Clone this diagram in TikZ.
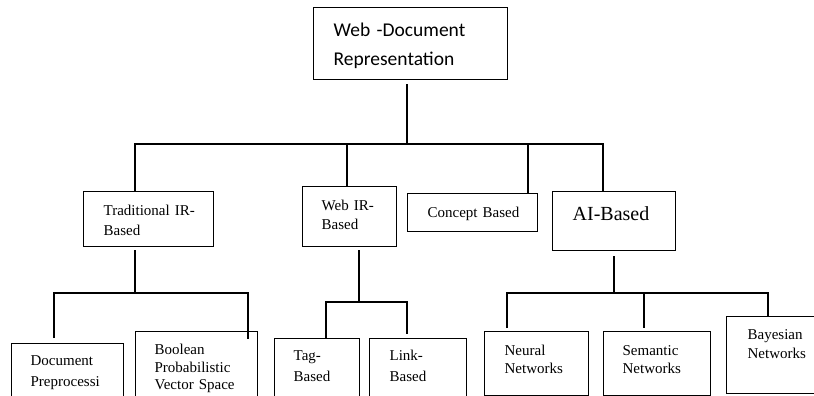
\documentclass[tikz,border=0pt]{standalone}
\usepackage{fontspec}
\setmainfont{Liberation Serif}
\newfontfamily\calfont{Carlito}
\tikzset{
  box/.style={draw, line width=1.3pt, anchor=north west, inner ysep=0pt, align=left, font=\fontsize{15}{20}\selectfont},
  link/.style={line width=1.3pt}
}

\begin{document}
\begin{tikzpicture}[x=1pt, y=-1pt]
	\useasboundingbox (0,0) rectangle (814,396);
	\clip (0,0) rectangle (814,396);
	% boxes
	\node[box, inner xsep=20pt, text width=154pt, text height=29pt, text depth=43pt, font=\calfont\fontsize{19.5}{29}\selectfont] (root) at (313,7) {Web -Document\\Representation};
	\node[box, inner xsep=20pt, text width=90pt, text height=24pt, text depth=31pt] (trad) at (83,191) {\mbox{Traditional IR-}\\Based};
	\node[box, inner xsep=19pt, text width=56pt, text height=24pt, text depth=36pt, font=\fontsize{15}{19}\selectfont] (web) at (302,186) {\mbox{Web IR-}\\Based};
	\node[box, inner xsep=20pt, text width=90pt, text height=24pt, text depth=14pt] (concept) at (407,193) {\mbox{Concept Based}};
	\node[box, inner xsep=20pt, text width=83pt, text height=29pt, text depth=30pt, font=\fontsize{20}{24}\selectfont] (ai) at (552,191) {\mbox{AI-Based}};
	\node[box, inner xsep=19pt, text width=74pt, text height=22pt, text depth=45pt, font=\fontsize{15}{21}\selectfont] (doc) at (11,343) {Document\\Preprocessi};
	\node[box, inner xsep=19pt, text width=84pt, text height=23pt, text depth=56pt, font=\fontsize{15}{17.5}\selectfont] (bool) at (135,331) {Boolean\\Probabilistic\\\mbox{Vector Space}};
	\node[box, inner xsep=19pt, text width=47pt, text height=22pt, text depth=50pt, font=\fontsize{15}{21}\selectfont] (tag) at (274,338) {\mbox{Tag-}\\Based};
	\node[box, inner xsep=20pt, text width=57pt, text height=22pt, text depth=50pt, font=\fontsize{15}{21}\selectfont] (lnk) at (369,338) {\mbox{Link-}\\Based};
	\node[box, inner xsep=20pt, text width=64pt, text height=24pt, text depth=40pt, font=\fontsize{15}{18}\selectfont] (neural) at (484,331) {Neural\\Networks};
	\node[box, inner xsep=19pt, text width=69pt, text height=24pt, text depth=40pt, font=\fontsize{15}{18}\selectfont] (semantic) at (603,331) {Semantic\\Networks};
	\node[box, inner xsep=21pt, text width=62pt, text height=23pt, text depth=54pt, font=\fontsize{15}{19}\selectfont] (bayes) at (726,316) {Bayesian\\Networks};
	% bus points
	\coordinate (t-root) at (407,144);
	\coordinate (t-trad) at (135,144);
	\coordinate (t-web) at (347,144);
	\coordinate (t-con) at (528,144);
	\coordinate (t-ai) at (603,144);
	\coordinate (m-trad) at (135,293);
	\coordinate (m-doc) at (54,293);
	\coordinate (m-bool) at (248,293);
	\coordinate (m-web) at (359,302);
	\coordinate (m-tag) at (326,302);
	\coordinate (m-lnk) at (407,302);
	\coordinate (m-ai) at (614,293);
	\coordinate (m-neu) at (507,293);
	\coordinate (m-sem) at (644,293);
	\coordinate (m-bay) at (768,293);
	% first level
	\draw[link] (t-root |- root.south) ++(0,4) -- (t-root);
	\draw[link] (t-trad |- trad.north) -- (t-trad) -- (t-ai) -- (t-ai |- ai.north);
	\draw[link] (t-web) -- (t-web |- web.north);
	\draw[link] (t-con) -- (t-con |- concept.north);
	% second level
	\draw[link] (m-trad |- trad.south) ++(0,3) -- (m-trad);
	\draw[link] (m-doc |- doc.north) ++(0,-5) -- (m-doc) -- (m-bool) -- (m-bool |- bool.north) -- ++(0,8);
	\draw[link] (m-web |- web.south) ++(0,3) -- (m-web);
	\draw[link] (m-tag |- tag.north) -- (m-tag) -- (m-lnk) -- ++(0,32);
	\draw[link] (m-ai |- ai.south) ++(0,5) -- (m-ai);
	\draw[link] (m-neu |- neural.north) ++(0,-3) -- (m-neu) -- (m-bay) -- (m-bay |- bayes.north);
	\draw[link] (m-sem) -- ++(0,35);
\end{tikzpicture}
\end{document}
